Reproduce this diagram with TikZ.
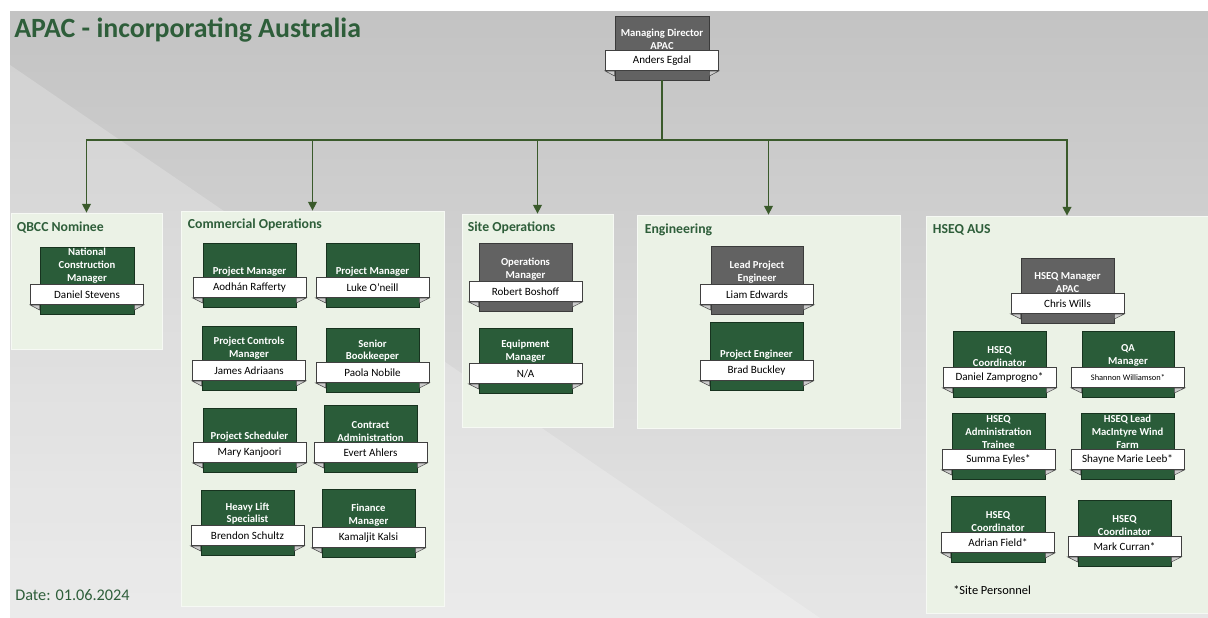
\documentclass[tikz,border=0pt]{standalone}
\usepackage{fontspec}
\setmainfont{Carlito}
\usetikzlibrary{arrows.meta,positioning,fit,calc}
\definecolor{hdgreen}{HTML}{2E5E3A}
\definecolor{cardgreen}{HTML}{2A5C39}
\definecolor{cardgray}{HTML}{626262}
\definecolor{panelbg}{HTML}{EBF2E6}
\definecolor{linkgreen}{HTML}{3A5A2B}
\definecolor{bgtop}{HTML}{C3C3C3}
\definecolor{bgbot}{HTML}{E6E6E6}
% one position card: box, name plate with folds, title
\newcommand{\orgcard}[6]{%
  \node[#1,fit={#3 #4}] (#2) {};
  \node[plate,above=7pt of #2.south] (#2-n) {#6};
  \filldraw[fold] (#2-n.south west) -- (#2.west |- #2-n.south) -- ++(0,5) -- cycle;
  \filldraw[fold] (#2-n.south east) -- (#2.east |- #2-n.south) -- ++(0,5) -- cycle;
  \node[cardtitle,above=0.3pt of #2-n] (#2-t) {#5};}

\begin{document}
\begin{tikzpicture}[x=0.75pt,y=-0.75pt,
  panel/.style={fill=panelbg,draw=white!55!panelbg,line width=0.6pt,inner sep=0pt},
  heading/.style={anchor=west,text=hdgreen,inner sep=0pt,font=\bfseries\fontsize{10.3}{12}\selectfont},
  greencard/.style={fill=cardgreen,draw=cardgreen!55!black,line width=0.5pt,inner sep=0pt},
  graycard/.style={fill=cardgray,draw=cardgray!60!black,line width=0.5pt,inner sep=0pt},
  plate/.style={draw=black!75,fill=white,line width=0.5pt,inner sep=0pt,
    minimum width=84.75pt,minimum height=15pt,font=\fontsize{8.3}{9}\selectfont},
  fold/.style={fill=gray!40,draw=black!70,line width=0.4pt},
  cardtitle/.style={text=white,align=center,inner sep=0pt,font=\bfseries\fontsize{8}{9.7}\selectfont},
  link/.style={draw=linkgreen,line width=1.1pt},
  arrow/.style={link,-{Triangle[width=6.5pt,length=6.5pt]}}]
  \useasboundingbox (0,0) rectangle (1208,618);
  \shade[top color=bgtop,bottom color=bgbot] (10,11) rectangle (1208,618);
  \fill[white,opacity=0.22] (10,65) -- (820,618) -- (10,618) -- cycle;
  \node[anchor=west,text=hdgreen,inner sep=0pt,font=\bfseries\fontsize{20.9}{24}\selectfont] (title) at (14,30) {APAC - incorporating Australia};
  \node[anchor=west,text=hdgreen,inner sep=0pt,font=\fontsize{12.2}{14}\selectfont] (date) at (15,595) {Date: 01.06.2024};

  % department panels
  \node[panel,fit={(11,213) (162,349)}] (qbcc) {};
  \node[panel,fit={(181,211) (444,606)}] (comm) {};
  \node[panel,fit={(462,214) (613,427)}] (site) {};
  \node[panel,fit={(637,215) (900,428)}] (eng) {};
  \node[panel,fit={(926,216) (1208,613)}] (hseq) {};
  \node[heading] (qbcc-h) at ($(qbcc.north west)+(6,15)$) {QBCC Nominee};
  \node[heading] (comm-h) at ($(comm.north west)+(7,14)$) {Commercial Operations};
  \node[heading] (site-h) at ($(site.north west)+(6,14)$) {Site Operations};
  \node[heading] (eng-h) at ($(eng.north west)+(8,15)$) {Engineering};
  \node[heading] (hseq-h) at ($(hseq.north west)+(7,14)$) {HSEQ AUS};

  % top of the chart
  \orgcard{graycard}{md}{(615,16)}{(709,80)}{Managing Director\\APAC}{Anders Egdal}
  \coordinate (bus) at (md.south |- 0,140);
  \draw[link] (md) -- (bus);
  \foreach \dept in {qbcc,comm,site,eng,hseq}
    \draw[arrow] (bus) -| (\dept.north);

  \orgcard{greencard}{ncm}{(40,247)}{(134,314)}{National\\Construction\\Manager}{Daniel Stevens}

  \orgcard{greencard}{pm1}{(203,243)}{(296,307)}{Project Manager}{Aodhán Rafferty}
  \orgcard{greencard}{pm2}{(326,243)}{(419,307)}{Project Manager}{Luke O’neill}
  \orgcard{greencard}{pcm}{(202,326)}{(296,390)}{Project Controls\\Manager}{James Adriaans}
  \orgcard{greencard}{sbk}{(326,328)}{(419,392)}{Senior\\Bookkeeper}{Paola Nobile}
  \orgcard{greencard}{psch}{(203,408)}{(296,472)}{Project Scheduler}{Mary Kanjoori}
  \orgcard{greencard}{cadm}{(324,405)}{(417,472)}{Contract\\Administration}{Evert Ahlers}
  \orgcard{greencard}{hls}{(201,490)}{(294,555)}{Heavy Lift\\Specialist}{Brendon Schultz}
  \orgcard{greencard}{fin}{(322,489)}{(415,557)}{Finance\\Manager}{Kamaljit Kalsi}

  \orgcard{graycard}{opm}{(479,243)}{(572,311)}{Operations\\Manager}{Robert Boshoff}
  \orgcard{greencard}{eqm}{(479,328)}{(572,393)}{Equipment\\Manager}{N/A}

  \orgcard{graycard}{lpe}{(711,246)}{(803,314)}{Lead Project\\Engineer}{Liam Edwards}
  \orgcard{greencard}{pe}{(710,322)}{(803,390)}{Project Engineer}{Brad Buckley}

  \orgcard{graycard}{hsm}{(1021,258)}{(1114,323)}{HSEQ Manager\\APAC}{Chris Wills}
  \orgcard{greencard}{hc1}{(953,331)}{(1046,397)}{HSEQ\\Coordinator}{Daniel Zamprogno*}
  \orgcard{greencard}{qam}{(1082,331)}{(1174,397)}{QA\\Manager}{{\fontsize{6.3}{7}\selectfont Shannon Williamson*}}
  \orgcard{greencard}{hat}{(952,413)}{(1045,479)}{HSEQ\\Administration\\Trainee}{Summa Eyles*}
  \orgcard{greencard}{hlw}{(1081,413)}{(1174,479)}{HSEQ Lead\\MacIntyre Wind\\Farm}{Shayne Marie Leeb*}
  \orgcard{greencard}{hc2}{(951,496)}{(1045,562)}{HSEQ\\Coordinator}{Adrian Field*}
  \orgcard{greencard}{hc3}{(1078,500)}{(1171,566)}{HSEQ\\Coordinator}{Mark Curran*}
  \node[anchor=west,inner sep=0pt,font=\fontsize{9.3}{11}\selectfont] (site-note) at (953,590) {*Site Personnel};
\end{tikzpicture}
\end{document}
